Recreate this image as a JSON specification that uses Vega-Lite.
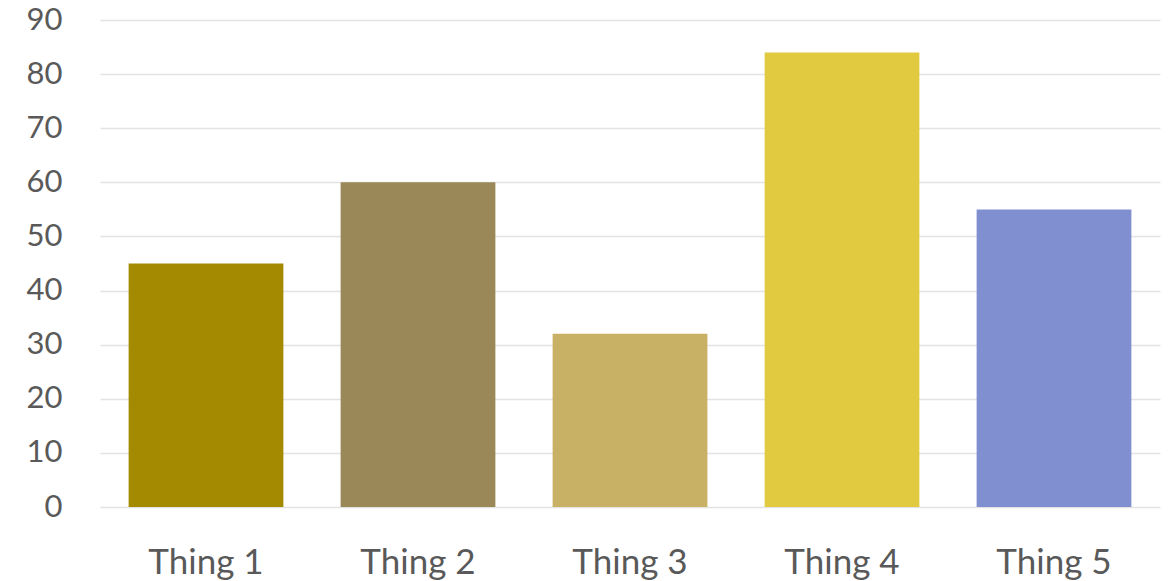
{
  "$schema": "https://vega.github.io/schema/vega-lite/v6.json",
  "autosize": "none",
  "width": 1060,
  "height": 487,
  "padding": {"left": 100, "top": 20, "right": 15, "bottom": 74},
  "background": "white",
  "config": {"view": {"stroke": null}, "font": "Lato"},
  "data": {"values": [
    {"thing": "Thing 1", "value": 45, "color": "#A38A00"},
    {"thing": "Thing 2", "value": 60, "color": "#9A8858"},
    {"thing": "Thing 3", "value": 32, "color": "#C8B165"},
    {"thing": "Thing 4", "value": 84, "color": "#E2CA40"},
    {"thing": "Thing 5", "value": 55, "color": "#7F8FCF"}
  ]},
  "mark": {"type": "bar"},
  "encoding": {
    "x": {"field": "thing", "type": "nominal", "sort": null,
      "scale": {"paddingInner": 0.27, "paddingOuter": 0.135},
      "axis": {"title": null, "labelAngle": 0, "domain": false, "ticks": false, "labelPadding": 38, "labelFontSize": 35, "labelColor": "#595959", "labelFont": "Lato"}},
    "y": {"field": "value", "type": "quantitative",
      "scale": {"domain": [0, 90], "nice": false},
      "axis": {"title": null, "values": [0,10,20,30,40,50,60,70,80,90], "domain": false, "ticks": false, "labelPadding": 38, "labelFontSize": 31, "labelColor": "#595959", "gridColor": "#E3E3E3", "gridWidth": 1.5, "labelFont": "Lato"}},
    "color": {"field": "color", "type": "nominal", "scale": null, "legend": null}
  }
}
